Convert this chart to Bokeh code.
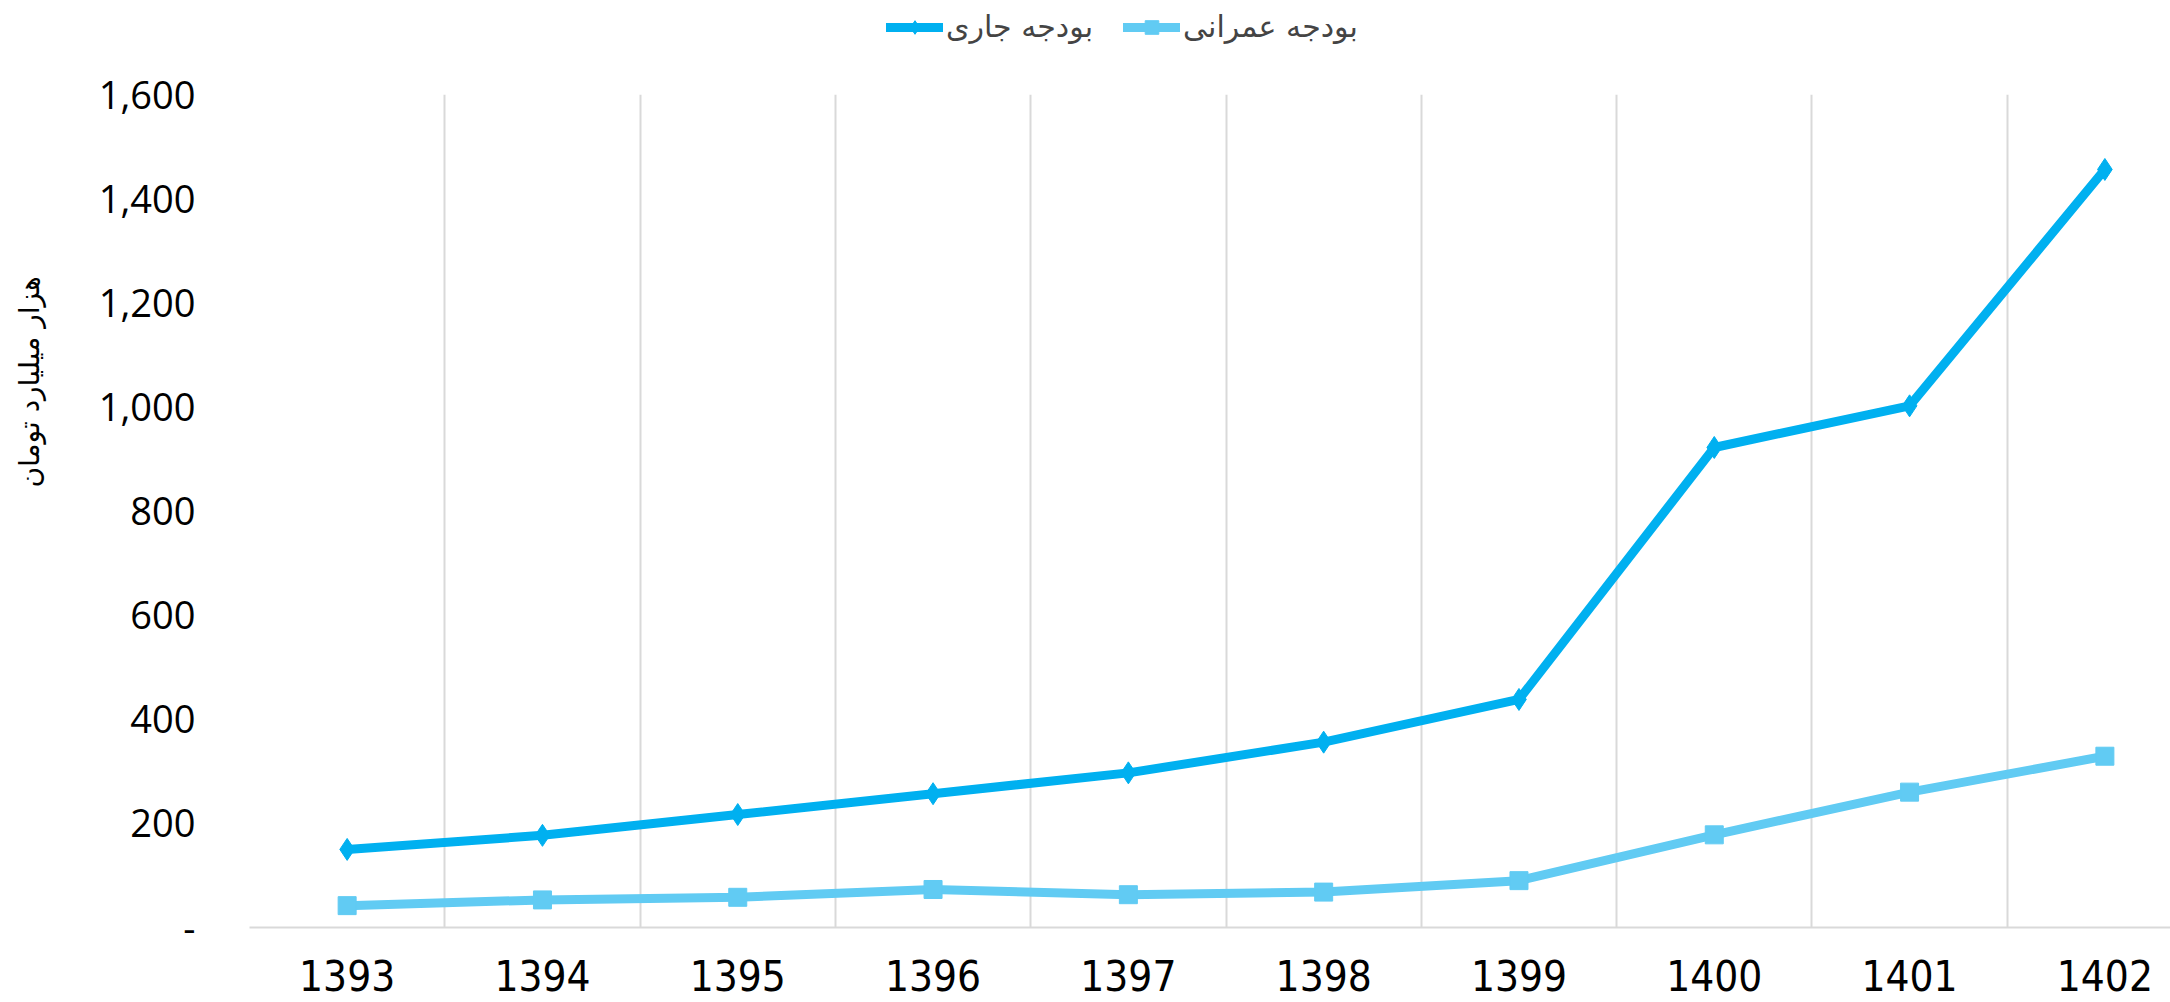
from bokeh.plotting import figure
from bokeh.layouts import column
from bokeh.models import (Legend, LegendItem, FixedTicker,
                          NumeralTickFormatter, Range1d, BasicTickFormatter)
from bokeh.embed import file_html
from bokeh.resources import INLINE

# ---- data ----
years = [1393, 1394, 1395, 1396, 1397, 1398, 1399, 1400, 1401, 1402]
current_budget = [150, 177, 217, 257, 297, 356, 438, 922, 1002, 1456]
development_budget = [42, 53, 58, 73, 63, 68, 90, 178, 260, 329]
y_ticks = [0, 200, 400, 600, 800, 1000, 1200, 1400, 1600]
series_names = ["بودجه جاری", "بودجه عمرانی"]
axis_title = "هزار میلیارد تومان"

DARK = "#00B0F0"
LIGHT = "#61CBF3"
GRID = "#d9d9d9"
ARABIC_FONT = "DejaVu Sans"
LW = 9

LEG_H = 60
W, H = 2170, 1002

# ---------------- main chart ----------------
p = figure(width=W, height=H - LEG_H, output_backend="svg", toolbar_location=None,
           x_range=Range1d(years[0] - 0.5, years[-1] + 0.336),
           y_range=Range1d(y_ticks[0], y_ticks[-1]),
           min_border_left=249, min_border_top=34, min_border_bottom=75,
           min_border_right=0)
p.outline_line_color = None
p.background_fill_color = "white"

p.xgrid.ticker = FixedTicker(ticks=[y - 0.5 for y in years] + [years[-1] + 0.5])
p.xgrid.grid_line_color = GRID
p.xgrid.grid_line_width = 2
p.ygrid.grid_line_color = None

p.xaxis.ticker = FixedTicker(ticks=years)
p.xaxis.formatter = BasicTickFormatter(use_scientific=False)
p.xaxis.major_tick_line_color = None
p.xaxis.minor_tick_line_color = None
p.xaxis.axis_line_color = GRID
p.xaxis.axis_line_width = 2
p.xaxis.major_label_text_font = "'DejaVu Sans Condensed', Roboto, sans-serif"
p.xaxis.major_label_text_font_size = "42px"
p.xaxis.major_label_text_color = "black"
p.xaxis.major_label_standoff = 26

p.yaxis.ticker = FixedTicker(ticks=y_ticks)
p.yaxis.formatter = NumeralTickFormatter(format="0,0")
p.yaxis.major_label_overrides = {0: "-"}
p.yaxis.major_tick_line_color = None
p.yaxis.minor_tick_line_color = None
p.yaxis.axis_line_color = None
p.yaxis.major_label_text_font = "Open Sans"
p.yaxis.major_label_text_font_size = "38px"
p.yaxis.major_label_text_color = "black"
p.yaxis.major_label_standoff = 48

# axis title: non-breaking spaces lift the visible words above the frame centre
p.yaxis.axis_label = "\u00a0" * 29 + axis_title
p.yaxis.axis_label_text_font = ARABIC_FONT
p.yaxis.axis_label_text_font_size = "28px"
p.yaxis.axis_label_text_font_style = "normal"
p.yaxis.axis_label_text_color = "black"
p.yaxis.axis_label_standoff = 50

p.line(years, current_budget, line_width=LW, color=DARK,
       line_cap="round", line_join="round")
p.scatter(years, current_budget, marker="diamond", size=22, color=DARK)
p.line(years, development_budget, line_width=LW, color=LIGHT,
       line_cap="round", line_join="round")
p.scatter(years, development_budget, marker="square", size=18, color=LIGHT)

# ---------------- legend strip ----------------
lg = figure(width=W, height=LEG_H, output_backend="svg", toolbar_location=None,
            x_range=Range1d(0, 1), y_range=Range1d(0, 1),
            x_axis_type=None, y_axis_type=None,
            min_border=0, min_border_left=0, min_border_right=0,
            min_border_top=0, min_border_bottom=0)
lg.outline_line_color = None
lg.xgrid.grid_line_color = None
lg.ygrid.grid_line_color = None
# legend-only renderers (their data lie outside this strip's ranges)
l1 = lg.line(years, current_budget, line_width=LW, color=DARK, line_cap="round")
m1 = lg.scatter(years, current_budget, marker="diamond", size=22, color=DARK)
l2 = lg.line(years, development_budget, line_width=LW, color=LIGHT, line_cap="round")
m2 = lg.scatter(years, development_budget, marker="square", size=18, color=LIGHT)

legend = Legend(items=[LegendItem(label=series_names[0], renderers=[l1, m1]),
                       LegendItem(label=series_names[1], renderers=[l2, m2])],
                orientation="horizontal", location=(637, 16),
                glyph_width=57, glyph_height=34,
                label_text_font=ARABIC_FONT, label_text_font_size="30px",
                label_standoff=3, spacing=30, padding=0, margin=0,
                border_line_color=None, background_fill_alpha=0)
lg.add_layout(legend)

layout = column(lg, p, spacing=0)
open("out.html", "w").write(file_html(layout, INLINE))
